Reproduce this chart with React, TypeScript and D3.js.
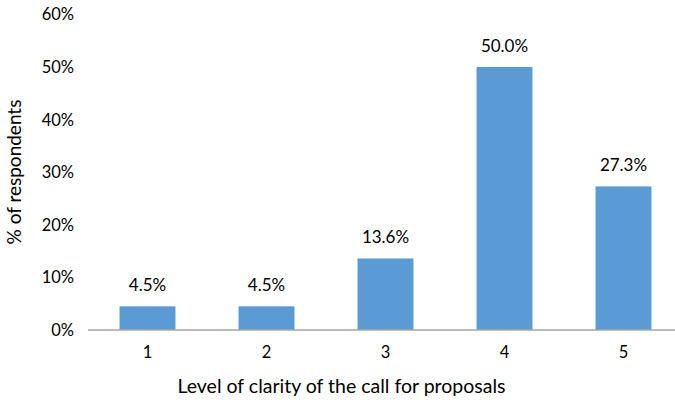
import React from "react";
import * as d3 from "d3";

const categories = ["1", "2", "3", "4", "5"];
const values = [4.5, 4.5, 13.6, 50.0, 27.3];
const yTicks = [0, 10, 20, 30, 40, 50, 60];

const W = 675;
const H = 403;
const margin = { left: 88, right: -8, top: 14.4, bottom: 73 };
const FONT = "Lato, 'Open Sans', sans-serif";

export default function App() {
  const x = d3
    .scaleBand<string>()
    .domain(categories)
    .range([margin.left, W - margin.right])
    .paddingInner(0.53)
    .paddingOuter(0.265);
  const y = d3
    .scaleLinear()
    .domain([0, 60])
    .range([H - margin.bottom, margin.top]);

  const base = y(0);

  return (
    <svg
      width={W}
      height={H}
      style={{ position: "absolute", left: 0, top: 0, background: "#fff" }}
      fontFamily={FONT}
    >
      {/* y tick labels */}
      {yTicks.map((t) => (
        <text
          key={t}
          x={74}
          y={y(t)}
          dy="0.36em"
          textAnchor="end"
          fontSize={16.5}
          fill="#000"
        >
          {`${t}%`}
        </text>
      ))}

      {/* bars */}
      {values.map((v, i) => (
        <rect
          key={categories[i]}
          x={x(categories[i])}
          y={y(v)}
          width={x.bandwidth()}
          height={base - y(v)}
          fill="#5B9BD5"
        />
      ))}

      {/* value labels */}
      {values.map((v, i) => (
        <text
          key={`l${i}`}
          x={(x(categories[i]) as number) + x.bandwidth() / 2}
          y={y(v) - 15}
          textAnchor="middle"
          fontSize={17}
          fill="#000"
        >
          {`${v.toFixed(1)}%`}
        </text>
      ))}

      {/* x axis line */}
      <line x1={88} x2={W} y1={base} y2={base} stroke="#A6A6A6" strokeWidth={1.5} />

      {/* x tick labels */}
      {categories.map((c) => (
        <text
          key={c}
          x={(x(c) as number) + x.bandwidth() / 2}
          y={358}
          textAnchor="middle"
          fontSize={16.5}
          fill="#000"
        >
          {c}
        </text>
      ))}

      {/* axis titles */}
      <text x={341.5} y={393} textAnchor="middle" fontSize={19.5} fill="#000">
        Level of clarity of the call for proposals
      </text>
      <text
        transform="translate(21,172) rotate(-90)"
        textAnchor="middle"
        fontSize={19}
        fill="#000"
      >
        % of respondents
      </text>
    </svg>
  );
}
